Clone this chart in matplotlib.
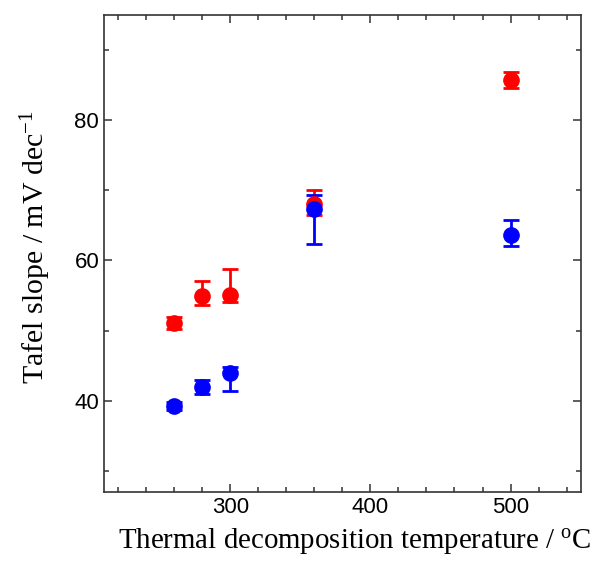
import matplotlib
matplotlib.use("Agg")
import matplotlib.pyplot as plt
from matplotlib.ticker import MultipleLocator

# data
temps = [260, 280, 300, 360, 500]

red_y = [51.1, 54.9, 55.1, 68.0, 85.8]
red_lo = [0.9, 1.3, 1.1, 1.5, 1.2]
red_hi = [0.9, 2.1, 3.7, 2.1, 1.1]

blue_y = [39.2, 41.9, 43.9, 67.3, 63.7]
blue_lo = [0.6, 1.0, 2.5, 5.0, 1.7]
blue_hi = [0.6, 1.1, 0.9, 2.0, 2.1]

plt.rcParams.update({
    'font.family': 'Liberation Sans',
    'mathtext.fontset': 'custom',
    'mathtext.rm': 'Liberation Serif',
    'mathtext.it': 'Liberation Serif:italic',
})

fig = plt.figure(figsize=(5.98, 5.61), dpi=100)
ax = fig.add_axes([0.174, 0.1235, 0.797, 0.8495])

ax.errorbar(temps, red_y, yerr=[red_lo, red_hi], fmt='o', color='#FF0000',
            markersize=11, elinewidth=2, capsize=6, capthick=2)
ax.errorbar(temps, blue_y, yerr=[blue_lo, blue_hi], fmt='o', color='#0000FF',
            markersize=11, elinewidth=2, capsize=6, capthick=2)

ax.set_xlim(210, 550)
ax.set_ylim(27, 95)
ax.xaxis.set_major_locator(MultipleLocator(100))
ax.xaxis.set_minor_locator(MultipleLocator(20))
ax.yaxis.set_major_locator(MultipleLocator(20))
ax.yaxis.set_minor_locator(MultipleLocator(10))

ax.tick_params(which='both', direction='in', top=True, right=True,
               labelsize=16, color='#333333', width=1.1)
ax.tick_params(which='major', length=6)
ax.tick_params(which='minor', length=3.5)
for sp in ax.spines.values():
    sp.set_linewidth(1.2)
    sp.set_color('#333333')

ax.set_xlabel(r'Thermal decomposition temperature / $^{\mathrm{o}}$C',
              family='Liberation Serif', fontsize=20.8)
ax.set_ylabel(r'Tafel slope / mV dec$^{-1}$',
              family='Liberation Serif', fontsize=21.5)
ax.xaxis.set_label_coords(0.526, -0.072)
ax.yaxis.set_label_coords(-0.108, 0.513)

fig.savefig('out.png', dpi=100, facecolor='white')
